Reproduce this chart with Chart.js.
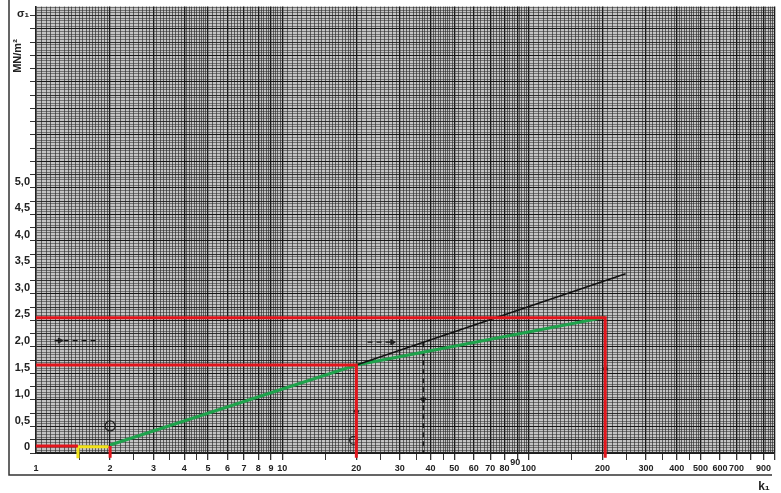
<!DOCTYPE html>
<html>
<head>
<meta charset="UTF-8">
<title>σ1 – k1</title>
<script src="https://cdn.jsdelivr.net/npm/chart.js"></script>
<style>
  html, body { margin: 0; padding: 0; background: #fff; }
  #wrap { width: 781px; height: 493px; position: relative; }
</style>
</head>
<body>
<div id="wrap"><canvas id="chart"></canvas></div>
<script>
// tick labels
const xTickLabels = [1, 2, 3, 4, 5, 6, 7, 8, 9, 10, 20, 30, 40, 50, 60, 70, 80, 90, 100, 200, 300, 400, 500, 600, 700, 900];
const yTickLabels = [0, 0.5, 1, 1.5, 2, 2.5, 3, 3.5, 4, 4.5, 5];

// green construction line
const greenK = [2, 20, 205];
const greenSigma = [0.15, 1.66, 2.56];

// black (extrapolated) line
const blackK = [20, 248];
const blackSigma = [1.66, 3.38];

// red reading lines (null = break)
const redK = [1, 1.48, null, 2, 2, null, 1, 20, 20, null, 1, 205, 205];
const redSigma = [0.13, 0.13, null, 0.13, -0.09, null, 1.66, 1.66, -0.09, null, 2.55, 2.55, -0.09];

// yellow bracket
const yellowK = [1.48, 1.48, 1.97];
const yellowSigma = [-0.1, 0.12, 0.12];

// dashed black reading lines
const dashK = [37.4, 37.4, null, 1.19, 1.82, null, 22.2, 28];
const dashSigma = [2.09, 0, null, 2.12, 2.12, null, 2.09, 2.09];

// arrow heads and circled marks
const arrowK = [20, 205, 37.4, 28, 1.25];
const arrowSigma = [0.8, 1.6, 1.0, 2.09, 2.12];
const arrowRot = [0, 0, 180, 90, 90];
const circleK = [2, 19.5];
const circleSigma = [0.51, 0.24];

const toPts = (xs, ys) => xs.map((x, i) => ({ x: x === null ? 1 : x, y: ys[i] }));

// graph paper rulings
const xGrid = [];
[1, 10, 100].forEach(d => {
  for (let i = 0; i < 20; i++) xGrid.push(+((1 + i * 0.05) * d).toFixed(4));
  for (let i = 0; i < 30; i++) xGrid.push(+((2 + i * 0.1) * d).toFixed(4));
  for (let i = 0; i < 25; i++) xGrid.push(+((5 + i * 0.2) * d).toFixed(4));
});
xGrid.push(1000);
const yGrid = [];
for (let i = 0; i <= 168; i++) yGrid.push(+(i * 0.05).toFixed(2));

const isLabelX = v => xTickLabels.includes(v) && v !== 90;
const mant = v => {
  const d = Math.pow(10, Math.floor(Math.log10(v) + 1e-9));
  return +(v / d).toFixed(4);
};
const isHalfX = v => Number.isInteger(mant(v) * 2);
const isMajorX = v => Number.isInteger(mant(v));
const isMult = (v, s) => Math.abs(v / s - Math.round(v / s)) < 1e-6;

const paper = {
  id: 'paper',
  beforeDraw(chart) {
    const { ctx, chartArea: a } = chart;
    ctx.save();
    ctx.fillStyle = '#fff';
    ctx.fillRect(0, 0, chart.width, chart.height);
    ctx.fillStyle = '#c4c4c4';
    ctx.fillRect(a.left, a.top, a.right - a.left, a.bottom - a.top);
    ctx.restore();
  },
  afterDraw(chart) {
    const { ctx, scales } = chart;
    ctx.save();
    ctx.strokeStyle = '#333';
    ctx.lineWidth = 1.5;
    ctx.beginPath();
    ctx.moveTo(9, 0);
    ctx.lineTo(9, 475);
    ctx.lineTo(772, 475);
    ctx.stroke();
    ctx.fillStyle = '#222';
    ctx.font = 'bold 11px "Liberation Sans", Arial, sans-serif';
    ctx.textAlign = 'center';
    ctx.fillText('σ₁', 23, 17);
    ctx.font = 'bold 9px "Liberation Sans", Arial, sans-serif';
    ctx.fillText('90', scales.x.getPixelForValue(90) - 2, 465);
    ctx.font = 'bold 12px "Liberation Sans", Arial, sans-serif';
    ctx.fillText('k₁', 764, 490);
    ctx.translate(21, 56);
    ctx.rotate(-Math.PI / 2);
    ctx.font = 'bold 11px "Liberation Sans", Arial, sans-serif';
    ctx.fillText('MN/m²', 0, 0);
    ctx.restore();
  }
};

new Chart(document.getElementById('chart'), {
  type: 'line',
  data: {
    datasets: [
      { data: toPts(redK, redSigma), borderColor: '#e3151c', borderWidth: 3, pointRadius: 0, spanGaps: false, clip: false },
      { data: toPts(yellowK, yellowSigma), borderColor: '#f2e21a', borderWidth: 3, pointRadius: 0, clip: false },
      { data: toPts(blackK, blackSigma), borderColor: '#111', borderWidth: 1.5, pointRadius: 0 },
      { data: toPts(greenK, greenSigma), borderColor: '#1fa24c', borderWidth: 3.2, pointRadius: 0 },
      { data: toPts(dashK, dashSigma), borderColor: '#111', borderWidth: 1.3, borderDash: [5, 4], pointRadius: 0, spanGaps: false },
      { data: toPts(arrowK, arrowSigma), showLine: false, pointStyle: 'triangle', pointRadius: 3,
        rotation: arrowRot, backgroundColor: '#222', borderColor: '#222' },
      { data: toPts(circleK, circleSigma), showLine: false, pointStyle: 'circle', pointRadius: [5, 4],
        backgroundColor: 'rgba(0,0,0,0)', borderColor: '#222', borderWidth: 1.3 }
    ]
  },
  options: {
    responsive: true,
    maintainAspectRatio: false,
    animation: false,
    events: [],
    layout: { padding: { top: 5, right: 6, left: 0, bottom: 0 } },
    plugins: { legend: { display: false }, tooltip: { enabled: false } },
    scales: {
      x: {
        type: 'logarithmic',
        min: 1,
        max: 1000,
        afterBuildTicks: s => { s.ticks = xGrid.map(v => ({ value: v })); },
        afterFit: s => { s.height = 40; },
        ticks: {
          autoSkip: false,
          maxRotation: 0,
          minRotation: 0,
          padding: 3,
          color: '#222',
          font: { family: '"Liberation Sans", Arial, sans-serif', size: 9, weight: 'bold' },
          callback: v => (isLabelX(v) ? String(v) : '')
        },
        grid: {
          color: c => (c.tick && isMajorX(c.tick.value) ? 'rgba(15,15,15,0.95)' : 'rgba(30,30,30,0.62)'),
          lineWidth: c => (c.tick && isMajorX(c.tick.value) ? 1.3 : 1),
          tickLength: 7,
          tickColor: c => (c.tick && isHalfX(c.tick.value) && c.tick.value > 1 ? '#333' : 'rgba(0,0,0,0)')
        },
        border: { display: true, color: '#222', width: 1.5 }
      },
      y: {
        type: 'linear',
        min: 0,
        max: 8.42,
        afterBuildTicks: s => { s.ticks = yGrid.map(v => ({ value: v })); },
        afterFit: s => { s.width = 36; },
        ticks: {
          autoSkip: false,
          padding: 0,
          labelOffset: -6,
          color: '#222',
          font: { family: '"Liberation Sans", Arial, sans-serif', size: 11, weight: 'bold' },
          callback: v => {
            const hit = yTickLabels.find(t => Math.abs(t - v) < 1e-6);
            return hit === undefined ? '' : (hit === 0 ? '0' : hit.toFixed(1).replace('.', ','));
          }
        },
        grid: {
          color: c => {
            if (!c.tick) return 'rgba(40,40,40,0.5)';
            const v = c.tick.value;
            if (isMult(v, 0.5)) return 'rgba(15,15,15,0.95)';
            if (isMult(v, 0.25)) return 'rgba(25,25,25,0.85)';
            return 'rgba(40,40,40,0.52)';
          },
          tickLength: 6,
          tickColor: c => (c.tick && isMult(c.tick.value, 0.25) ? '#333' : 'rgba(0,0,0,0)')
        },
        border: { display: true, color: '#222', width: 1.5 }
      }
    }
  },
  plugins: [paper]
});
</script>
</body>
</html>
